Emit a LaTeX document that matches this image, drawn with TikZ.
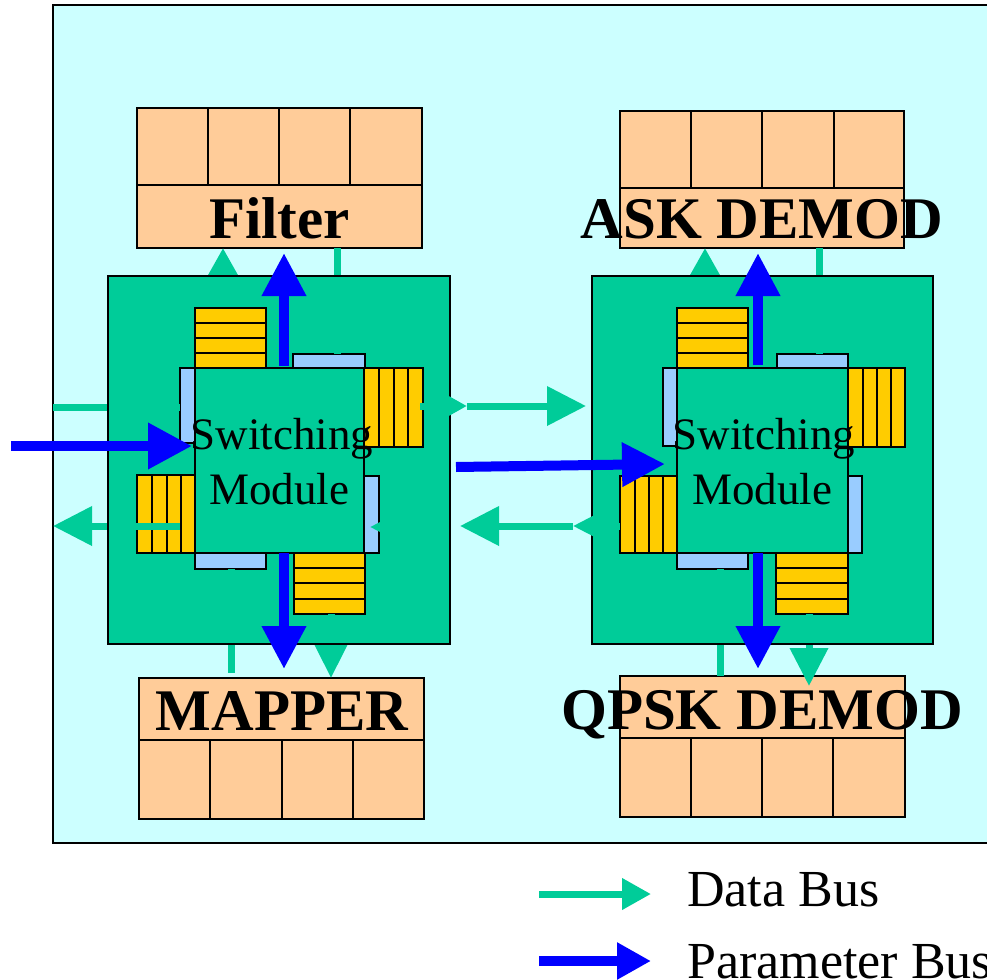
\documentclass[tikz,border=0pt]{standalone}
\usepackage{fontspec}
\setmainfont{Liberation Serif}
\usetikzlibrary{arrows.meta}
\definecolor{bgcyan}{HTML}{CCFFFF}
\definecolor{modgreen}{HTML}{00CC99}
\definecolor{peach}{HTML}{FFCC99}
\definecolor{fifo}{HTML}{FFCC00}
\definecolor{port}{HTML}{99CCFF}
\definecolor{pbus}{HTML}{0000FF}
\tikzset{
 outerframe/.style={draw=black, line width=2pt, fill=bgcyan},
 unitbox/.style={draw=black, line width=1.5pt, fill=peach},
 cellline/.style={draw=black, line width=1.5pt},
 fifobox/.style={draw=black, line width=1.5pt, fill=fifo},
 portbar/.style={draw=black, line width=1.5pt, fill=port},
 swbox/.style={draw=black, line width=1.5pt, fill=modgreen},
 modfill/.style={fill=modgreen},
 modborder/.style={draw=black, line width=2pt},
 dline/.style={draw=modgreen, line width=7pt},
 darrow/.style={dline, -{Triangle[length=29pt,width=30pt]}},
 darrowL/.style={dline, -{Triangle[length=39pt,width=38pt]}},
 parrow/.style={draw=pbus, line width=10pt, -{Triangle[length=43pt,width=42pt]}},
 lbl/.style={font=\fontsize{59}{59}\bfseries\selectfont, inner sep=0pt, anchor=base},
 swlbl/.style={font=\fontsize{45}{45}\selectfont, inner sep=0pt, anchor=base},
 legtxt/.style={font=\fontsize{52}{52}\selectfont, inner sep=0pt, anchor=base west},
}
\begin{document}
\begin{tikzpicture}[x=1pt,y=-1pt]
\useasboundingbox (0,0) rectangle (987,979);
% outer board
\draw[outerframe] (53,5.5) rectangle (1010,843);

% ---- unit boxes ----
% Filter
\draw[unitbox] (137,108) rectangle (422,248);
\draw[cellline] (137,185) -- (422,185) (208,108) -- (208,185) (279,108) -- (279,185) (350,108) -- (350,185);
% ASK DEMOD
\draw[unitbox] (620,111) rectangle (904,248);
\draw[cellline] (620,188) -- (904,188) (691,111) -- (691,188) (762,111) -- (762,188) (834,111) -- (834,188);
% MAPPER
\draw[unitbox] (139,678) rectangle (424,819);
\draw[cellline] (139,740) -- (424,740) (210,740) -- (210,819) (282,740) -- (282,819) (353,740) -- (353,819);
% QPSK DEMOD
\draw[unitbox] (620,676) rectangle (905,817);
\draw[cellline] (620,738) -- (905,738) (691,738) -- (691,817) (762,738) -- (762,817) (833,738) -- (833,817);

% ---- module backgrounds ----
\fill[modfill] (108,276) rectangle (450,644);
\fill[modfill] (592,276) rectangle (933,644);

% ---- left module ----
\draw[swbox] (195,368) rectangle (364,553);
\draw[fifobox] (195,308) rectangle (266,368);
\draw[cellline] (195,323) -- (266,323) (195,338) -- (266,338) (195,353) -- (266,353);
\draw[portbar] (293,354) rectangle (365,368);
\draw[fifobox] (364,368) rectangle (423,447);
\draw[cellline] (379,368) -- (379,447) (394,368) -- (394,447) (408,368) -- (408,447);
\draw[portbar] (180,368) rectangle (195,443);
\draw[fifobox] (137,475) rectangle (195,553);
\draw[cellline] (152,475) -- (152,553) (167,475) -- (167,553) (181,475) -- (181,553);
\draw[portbar] (364,476) rectangle (379,553);
\draw[portbar] (195,553) rectangle (266,569);
\draw[fifobox] (294,553) rectangle (365,614);
\draw[cellline] (294,568) -- (365,568) (294,583) -- (365,583) (294,599) -- (365,599);

% ---- right module ----
\draw[swbox] (677,368) rectangle (848,553);
\draw[fifobox] (677,308) rectangle (748,368);
\draw[cellline] (677,323) -- (748,323) (677,338) -- (748,338) (677,353) -- (748,353);
\draw[portbar] (777,354) rectangle (848,368);
\draw[fifobox] (848,368) rectangle (905,447);
\draw[cellline] (863,368) -- (863,447) (877,368) -- (877,447) (891,368) -- (891,447);
\draw[portbar] (663,368) rectangle (677,446);
\draw[fifobox] (620,476) rectangle (677,553);
\draw[cellline] (635,476) -- (635,553) (649,476) -- (649,553) (663,476) -- (663,553);
\draw[portbar] (848,476) rectangle (862,553);
\draw[portbar] (677,553) rectangle (748,569);
\draw[fifobox] (776,553) rectangle (848,614);
\draw[cellline] (776,568) -- (848,568) (776,583) -- (848,583) (776,599) -- (848,599);

% ---- arrow end points ----
\coordinate (inL1) at (53,407);   \coordinate (inL2) at (180,407);
\coordinate (outL1) at (180,526); \coordinate (outL2) at (53,526);
\coordinate (upDL1) at (223,305); \coordinate (upDL2) at (223,248);
\coordinate (stDL1) at (337,354); \coordinate (stDL2) at (337,248);
\coordinate (dnDL1) at (331,614); \coordinate (dnDL2) at (331,678);
\coordinate (sbDL1) at (231,569); \coordinate (sbDL2) at (231,673);
\coordinate (upDR1) at (705,305); \coordinate (upDR2) at (705,248);
\coordinate (stDR1) at (819,354); \coordinate (stDR2) at (819,248);
\coordinate (dnDR1) at (809,614); \coordinate (dnDR2) at (809,686);
\coordinate (sbDR1) at (720,569); \coordinate (sbDR2) at (720,676);

% data bus segments below the module borders
\draw[dline] (inL1) -- (inL2);
\draw[darrowL] (outL1) -- (outL2);
\draw[darrow] (upDL1) -- (upDL2);
\draw[dline] (stDL1) -- (stDL2);
\draw[dline] (sbDL1) -- (sbDL2);
\draw[dline, -{Triangle[length=38pt,width=36pt]}] (dnDL1) -- (dnDL2);
\draw[darrow] (upDR1) -- (upDR2);
\draw[dline] (stDR1) -- (stDR2);
\draw[dline] (sbDR1) -- (sbDR2);
\draw[dline, -{Triangle[length=38pt,width=37pt]}] (dnDR1) -- (dnDR2);

% module borders
\draw[modborder] (108,276) rectangle (450,644);
\draw[modborder] (592,276) rectangle (933,644);

% data bus between modules
\coordinate (xa1) at (420,406); \coordinate (xa2) at (467,406);
\coordinate (xb2) at (586,406);
\coordinate (xc1) at (620,526); \coordinate (xc2) at (573,526);
\coordinate (xd2) at (460,526);
\coordinate (xe1) at (445,527); \coordinate (xe2) at (370,527);
\draw[darrow] (xa1) -- (xa2);
\draw[darrowL] (xa2) -- (xb2);
\draw[darrowL] (xc1) -- (xc2);
\draw[darrowL] (xc2) -- (xd2);
\draw[darrowL] (xe1) -- (xe2);

% parameter bus
\coordinate (pinL1) at (11,446);  \coordinate (pinL2) at (192,446);
\coordinate (pmid1) at (456,467); \coordinate (pmid2) at (665,464);
\coordinate (pupL1) at (284,366); \coordinate (pupL2) at (284,253);
\coordinate (pdnL1) at (284,553); \coordinate (pdnL2) at (284,669);
\coordinate (pupR1) at (758,365); \coordinate (pupR2) at (758,253);
\coordinate (pdnR1) at (758,553); \coordinate (pdnR2) at (758,669);
\draw[parrow, -{Triangle[length=44pt,width=44pt]}] (pinL1) -- (pinL2);
\draw[parrow] (pmid1) -- (pmid2);
\draw[parrow] (pupL1) -- (pupL2);
\draw[parrow] (pdnL1) -- (pdnL2);
\draw[parrow] (pupR1) -- (pupR2);
\draw[parrow] (pdnR1) -- (pdnR2);

% ---- labels ----
\node[lbl] (filterlbl) at (279.5,238) {Filter};
\node[lbl] (asklbl) at (762,238) {ASK DEMOD};
\node[lbl] (mapperlbl) at (282,730) {MAPPER};
\node[lbl] (qpsklbl) at (762,729) {QPSK DEMOD};
\node[swlbl] (swL1) at (282,449) {Switching};
\node[swlbl] (swL2) at (279,504) {Module};
\node[swlbl] (swR1) at (764,449) {Switching};
\node[swlbl] (swR2) at (762,504) {Module};

% ---- legend ----
\coordinate (lgd1) at (539,894); \coordinate (lgd2) at (651,894);
\coordinate (lgp1) at (539,961); \coordinate (lgp2) at (651,961);
\draw[darrow] (lgd1) -- (lgd2);
\draw[parrow, -{Triangle[length=34pt,width=35pt]}] (lgp1) -- (lgp2);
\node[legtxt] (lgdtxt) at (687,906) {Data Bus};
\node[legtxt] (lgptxt) at (687,978) {Parameter Bus};
\end{tikzpicture}
\end{document}
